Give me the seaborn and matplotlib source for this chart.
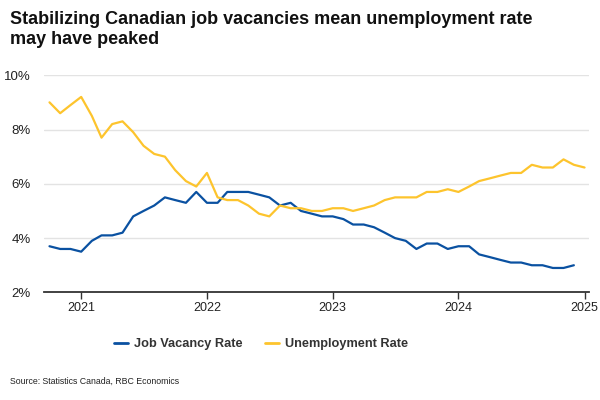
import pandas as pd
import numpy as np
import matplotlib
matplotlib.use("Agg")
import matplotlib.pyplot as plt
import matplotlib.dates as mdates
from matplotlib.ticker import FuncFormatter
import seaborn as sns

# monthly values (Oct 2020 onwards)
unemployment = [9.0, 8.6, 8.9,
                9.2, 8.5, 7.7, 8.2, 8.3, 7.9, 7.4, 7.1, 7.0, 6.5, 6.1, 5.9,
                6.4, 5.5, 5.4, 5.4, 5.2, 4.9, 4.8, 5.2, 5.1, 5.1, 5.0, 5.0,
                5.1, 5.1, 5.0, 5.1, 5.2, 5.4, 5.5, 5.5, 5.5, 5.7, 5.7, 5.8,
                5.7, 5.9, 6.1, 6.2, 6.3, 6.4, 6.4, 6.7, 6.6, 6.6, 6.9, 6.7,
                6.6]
vacancy = [3.7, 3.6, 3.6,
           3.5, 3.9, 4.1, 4.1, 4.2, 4.8, 5.0, 5.2, 5.5, 5.4, 5.3, 5.7,
           5.3, 5.3, 5.7, 5.7, 5.7, 5.6, 5.5, 5.2, 5.3, 5.0, 4.9, 4.8,
           4.8, 4.7, 4.5, 4.5, 4.4, 4.2, 4.0, 3.9, 3.6, 3.8, 3.8, 3.6,
           3.7, 3.7, 3.4, 3.3, 3.2, 3.1, 3.1, 3.0, 3.0, 2.9, 2.9, 3.0]
start_month = "2020-10-01"
series_names = ["Job Vacancy Rate", "Unemployment Rate"]
colors = ["#0A51A1", "#FDC42D"]

dates_u = pd.date_range(start_month, periods=len(unemployment), freq="MS")
dates_v = pd.date_range(start_month, periods=len(vacancy), freq="MS")
df = pd.concat([
    pd.DataFrame({"date": dates_v, "rate": vacancy, "series": series_names[0]}),
    pd.DataFrame({"date": dates_u, "rate": unemployment, "series": series_names[1]}),
])

sns.set_style("white")
plt.rcParams["font.family"] = ["Liberation Sans", "DejaVu Sans"]

fig = plt.figure(figsize=(6, 4), dpi=100)
ax = fig.add_axes([0.0733, 0.269, 0.9084, 0.543])

sns.lineplot(data=df, x="date", y="rate", hue="series", palette=colors,
             hue_order=series_names, linewidth=1.6, ax=ax, legend=False)

ax.set_ylim(2, 10)
ax.set_yticks([2, 4, 6, 8, 10])
ax.yaxis.set_major_formatter(FuncFormatter(lambda v, p: f"{v:.0f}%"))
ax.set_xlim(pd.Timestamp("2020-09-15"), pd.Timestamp("2025-01-14"))
ax.xaxis.set_major_locator(mdates.YearLocator())
ax.xaxis.set_major_formatter(mdates.DateFormatter("%Y"))
ax.set_xlabel("")
ax.set_ylabel("")

ax.grid(axis="y", color="#e3e3e3", linewidth=1)
ax.set_axisbelow(True)
for s in ["top", "right", "left"]:
    ax.spines[s].set_visible(False)
ax.spines["bottom"].set_color("#333333")
ax.spines["bottom"].set_linewidth(1.3)
ax.tick_params(axis="x", bottom=True, length=5, width=1, color="#333333",
               labelsize=9, labelcolor="#222222", pad=2)
ax.tick_params(axis="y", left=False, labelsize=9.5, labelcolor="#222222", pad=6)

fig.text(0.017, 0.972, "Stabilizing Canadian job vacancies mean unemployment rate\nmay have peaked",
         fontsize=13, fontweight="bold", va="top", ha="left", color="#111111",
         linespacing=1.2)

handles = [plt.Line2D([], [], color=c, linewidth=2) for c in colors]
leg = fig.legend(handles, series_names, loc="center", bbox_to_anchor=(0.435, 0.14),
                 ncol=2, frameon=False, handlelength=1.1, handletextpad=0.45,
                 columnspacing=1.8, prop={"size": 9.2, "weight": "bold"})
for t in leg.get_texts():
    t.set_color("#333333")

fig.text(0.017, 0.047, "Source: Statistics Canada, RBC Economics", fontsize=6.3,
         color="#222222", va="center", ha="left")

fig.savefig("out.png", dpi=100)
